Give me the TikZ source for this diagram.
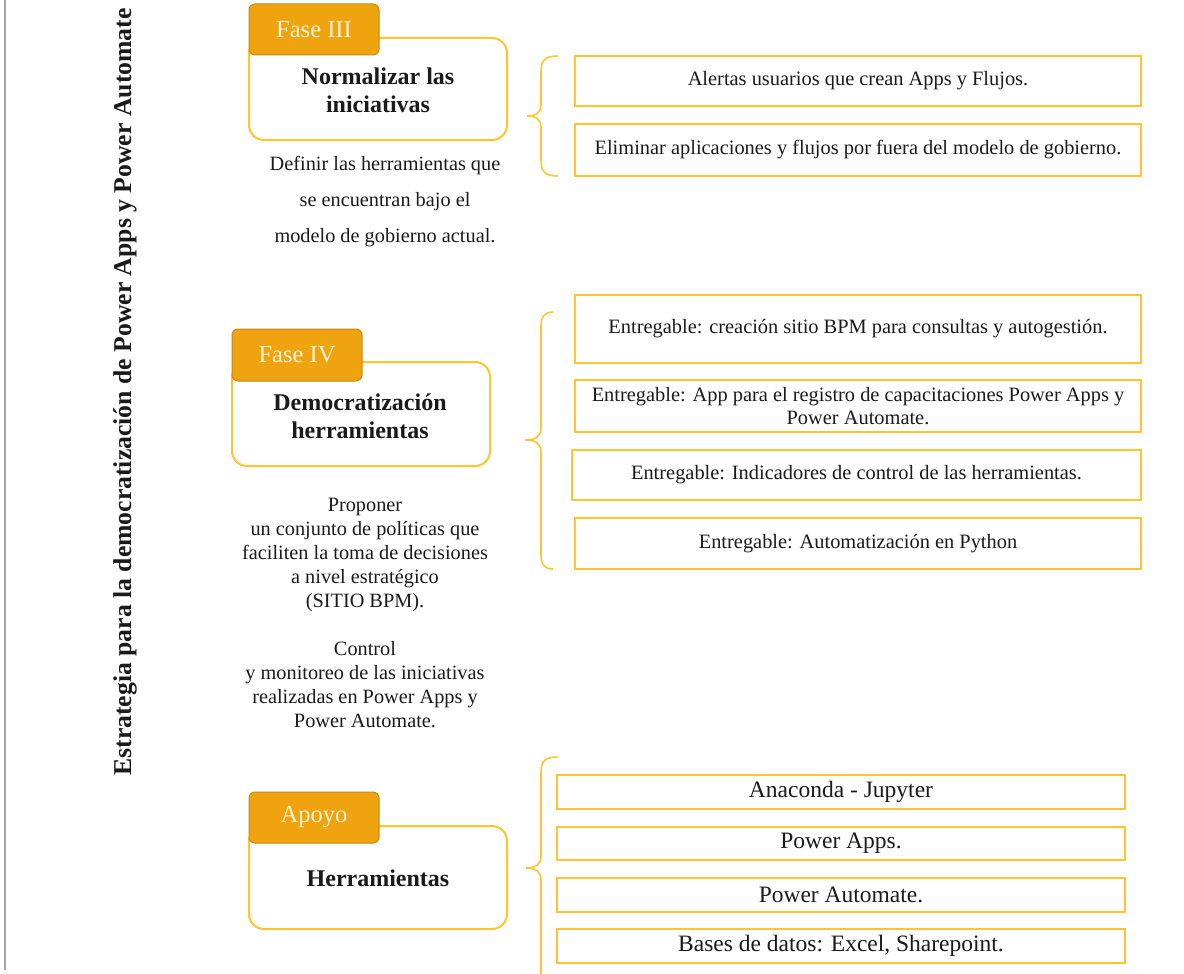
\documentclass[tikz,border=0pt]{standalone}
\usepackage{fontspec}
\setmainfont{Liberation Serif}
\definecolor{boxc}{HTML}{FFC42E}
\definecolor{tabc}{HTML}{EEA30F}
\definecolor{tabd}{HTML}{C98A0C}
\definecolor{tabtext}{HTML}{FFF3D2}
\definecolor{txt}{HTML}{1A1A1A}
\begin{document}
\begin{tikzpicture}[x=1pt,y=-1pt,
  bigbox/.style={draw=boxc,line width=2pt,rounded corners=15pt,minimum width=258pt,minimum height=102pt,inner sep=0pt},
  tabbox/.style={draw=tabd,fill=tabc,line width=1pt,rounded corners=6pt,minimum width=130pt,minimum height=51pt,inner sep=0pt,text=tabtext,font=\fontsize{24.5}{26}\selectfont},
  titletext/.style={font=\fontsize{24}{28}\selectfont\bfseries,text=txt,align=center},
  desc/.style={font=\fontsize{20.3}{24}\selectfont,text=txt,align=center},
  item/.style={draw=boxc,line width=1.8pt,inner sep=0pt,text=txt,align=center,font=\fontsize{20.4}{23}\selectfont},
  itemb/.style={item,font=\fontsize{23.5}{26}\selectfont},
  brace/.style={draw=boxc,line width=1.6pt}]
\useasboundingbox (0,0) rectangle (1184,974);
\draw[gray!70,line width=2pt] (5,0) -- (5,970);
\node[rotate=90,font=\fontsize{25.7}{28}\selectfont\bfseries,text=txt] (title) at (125,392) {Estrategia para la democratización de Power Apps y Power Automate};

% ---------- Fase III
\node[bigbox] (b3) at (378,89) {};
\node[tabbox] (t3) at (314,29.5) {Fase III};
\node[titletext] (h3) at (378,90) {Normalizar las\\iniciativas};
\node[desc,font=\fontsize{20.3}{36}\selectfont] (d3) at (385,202) {Definir las herramientas que\\se encuentran bajo el\\modelo de gobierno actual.};
\node[item,minimum width=566pt,minimum height=50pt] (a1) at (858,81) {Alertas usuarios que crean Apps y Flujos.};
\node[item,minimum width=566pt,minimum height=52pt] (a2) at (858,150) {Eliminar aplicaciones y flujos por fuera del modelo de gobierno.};
\draw[brace] (558,56) .. controls (545,56) and (541,60) .. (541,72) -- (541,104)
  .. controls (541,112) and (537,116) .. (527,116)
  .. controls (537,116) and (541,120) .. (541,128) -- (541,160)
  .. controls (541,172) and (545,176) .. (558,176);

% ---------- Fase IV
\node[bigbox,minimum height=104pt] (b4) at (361,414) {};
\node[tabbox,minimum height=52pt] (t4) at (297,355) {Fase IV};
\node[titletext] (h4) at (360,416) {Democratización\\herramientas};
\node[desc] (d4) at (365,613) {Proponer\\un conjunto de políticas que\\faciliten la toma de decisiones\\a nivel estratégico\\(SITIO BPM).\\[24pt]Control\\y monitoreo de las iniciativas\\realizadas en Power Apps y\\Power Automate.};
\node[item,minimum width=566pt,minimum height=68pt] (e1) at (858,329) {Entregable: creación sitio BPM para consultas y autogestión.};
\node[item,minimum width=566pt,minimum height=52pt] (e2) at (858,406) {Entregable: App para el registro de capacitaciones Power Apps y\\Power Automate.};
\node[item,minimum width=569pt,minimum height=50pt] (e3) at (856.5,475) {Entregable: Indicadores de control de las herramientas.};
\node[item,minimum width=566pt,minimum height=51pt] (e4) at (858,543.5) {Entregable: Automatización en Python};
\draw[brace] (553,312) .. controls (545,312) and (541,316) .. (541,326) -- (541,428)
  .. controls (541,436) and (536,440) .. (525,440)
  .. controls (536,440) and (541,444) .. (541,452) -- (541,555)
  .. controls (541,565) and (545,569) .. (553,569);

% ---------- Apoyo
\node[bigbox,minimum height=103pt] (b5) at (378,877.5) {};
\node[tabbox] (t5) at (314,817.5) {Apoyo};
\node[titletext] (h5) at (378,878) {Herramientas};
\node[itemb,minimum width=568pt,minimum height=34pt] (p1) at (841,792) {Anaconda - Jupyter};
\node[itemb,minimum width=568pt,minimum height=33pt] (p2) at (841,843.5) {Power Apps.};
\node[itemb,minimum width=568pt,minimum height=34pt] (p3) at (841,895) {Power Automate.};
\node[itemb,minimum width=568pt,minimum height=34pt] (p4) at (841,946) {Bases de datos: Excel, Sharepoint.};
\draw[brace] (558,757) .. controls (545,757) and (541,761) .. (541,772) -- (541,856)
  .. controls (541,864) and (536,868) .. (526,868)
  .. controls (536,868) and (541,872) .. (541,880) -- (541,974);
\end{tikzpicture}
\end{document}
